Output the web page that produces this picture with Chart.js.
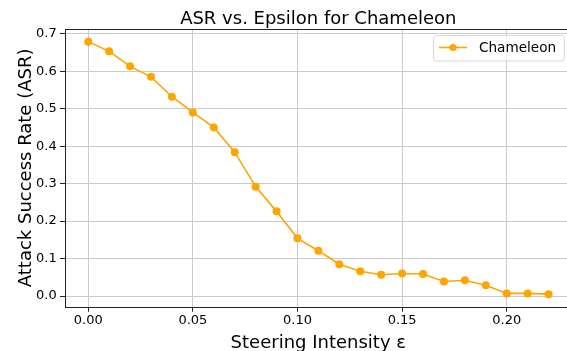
<!DOCTYPE html>
<html>
<head>
<meta charset="utf-8">
<script src="https://cdn.jsdelivr.net/npm/chart.js@4.4.1/dist/chart.umd.min.js"></script>
<style>
html,body{margin:0;padding:0;background:#fff;overflow:hidden;width:567px;height:351px}
#wrap{position:relative;width:582px;height:351px}
canvas{display:block}
</style>
</head>
<body>
<div id="wrap"><canvas id="c" width="582" height="351"></canvas></div>
<script>
const epsilon = [0.00,0.01,0.02,0.03,0.04,0.05,0.06,0.07,0.08,0.09,0.10,0.11,0.12,0.13,0.14,0.15,0.16,0.17,0.18,0.19,0.20,0.21,0.22];
const asr = [0.679,0.653,0.613,0.585,0.532,0.490,0.450,0.384,0.292,0.226,0.154,0.121,0.085,0.066,0.057,0.060,0.059,0.039,0.042,0.029,0.007,0.007,0.005];
const xTicks = [0.00,0.05,0.10,0.15,0.20];
const yTicks = [0.0,0.1,0.2,0.3,0.4,0.5,0.6,0.7];
const seriesName = 'Chameleon';
const chartTitle = 'ASR vs. Epsilon for Chameleon';
const xLabel = 'Steering Intensity ε';
const yLabel = 'Attack Success Rate (ASR)';

const FONT = '"DejaVu Sans", sans-serif';
const ORANGE = '#FFA500';

const decor = {
  id: 'decor',
  afterDraw(chart) {
    const ctx = chart.ctx, a = chart.chartArea;
    const cx = (a.left + a.right) / 2, cy = (a.top + a.bottom) / 2;
    ctx.save();
    // frame (spines)
    ctx.strokeStyle = '#222';
    ctx.lineWidth = 1;
    ctx.strokeRect(Math.round(a.left) + 0.5, Math.round(a.top) + 0.5, a.right - a.left, Math.round(a.bottom) - Math.round(a.top));
    // title
    ctx.fillStyle = '#000';
    ctx.textAlign = 'center';
    ctx.textBaseline = 'alphabetic';
    ctx.font = '18px ' + FONT;
    ctx.fillText(chartTitle, cx, 23.5);
    // x label
    ctx.fillText(xLabel, cx, 347.5);
    // y label
    ctx.save();
    ctx.translate(31, cy);
    ctx.rotate(-Math.PI / 2);
    ctx.fillText(yLabel, 0, 0);
    ctx.restore();
    // legend
    const ds = chart.data.datasets[0];
    const bx = 433.5, by = 35.5, bw = 131, bh = 25.5, r = 3;
    ctx.globalAlpha = 0.8;
    ctx.fillStyle = '#fff';
    ctx.beginPath();
    ctx.roundRect(bx, by, bw, bh, r);
    ctx.fill();
    ctx.globalAlpha = 1;
    ctx.strokeStyle = '#d6d6d6';
    ctx.lineWidth = 1;
    ctx.stroke();
    const ly = 47.5;
    ctx.strokeStyle = ds.borderColor;
    ctx.lineWidth = 1.6;
    ctx.beginPath();
    ctx.moveTo(439, ly);
    ctx.lineTo(467, ly);
    ctx.stroke();
    ctx.fillStyle = ds.borderColor;
    ctx.beginPath();
    ctx.arc(453, ly, 3.6, 0, Math.PI * 2);
    ctx.fill();
    ctx.fillStyle = '#000';
    ctx.textAlign = 'left';
    ctx.textBaseline = 'middle';
    ctx.font = '13.6px ' + FONT;
    ctx.fillText(ds.label, 479, ly + 0.5);
    ctx.restore();
  }
};

new Chart(document.getElementById('c'), {
  type: 'scatter',
  data: {
    datasets: [{
      label: seriesName,
      data: epsilon.map((x, i) => ({x: x, y: asr[i]})),
      showLine: true,
      borderColor: ORANGE,
      backgroundColor: ORANGE,
      borderWidth: 1.6,
      pointRadius: 4,
      pointHoverRadius: 4,
      pointBorderWidth: 0,
      tension: 0
    }]
  },
  options: {
    responsive: false,
    animation: false,
    devicePixelRatio: 1,
    layout: { padding: { left: 0, top: 29, right: 10.4, bottom: 0 } },
    plugins: { legend: { display: false }, title: { display: false }, tooltip: { enabled: false } },
    scales: {
      x: {
        type: 'linear',
        min: -0.0111,
        max: 0.231,
        afterBuildTicks: s => { s.ticks = xTicks.map(v => ({value: v})); },
        afterFit: s => { s.height = 44.2; },
        ticks: { color: '#000', font: { family: FONT, size: 13 }, padding: 1.5, maxRotation: 0,
                 callback: v => Number(v).toFixed(2) },
        grid: { color: '#cbcbcb', lineWidth: 1, drawTicks: true, tickLength: 5, tickColor: '#222' },
        border: { display: false }
      },
      y: {
        type: 'linear',
        min: -0.0287,
        max: 0.7127,
        afterBuildTicks: s => { s.ticks = yTicks.map(v => ({value: v})); },
        afterFit: s => { s.width = 65; },
        ticks: { color: '#000', font: { family: FONT, size: 13 }, padding: 3.3,
                 callback: v => Number(v).toFixed(1) },
        grid: { color: '#cbcbcb', lineWidth: 1, drawTicks: true, tickLength: 5, tickColor: '#222' },
        border: { display: false }
      }
    }
  },
  plugins: [decor]
});
</script>
</body>
</html>
